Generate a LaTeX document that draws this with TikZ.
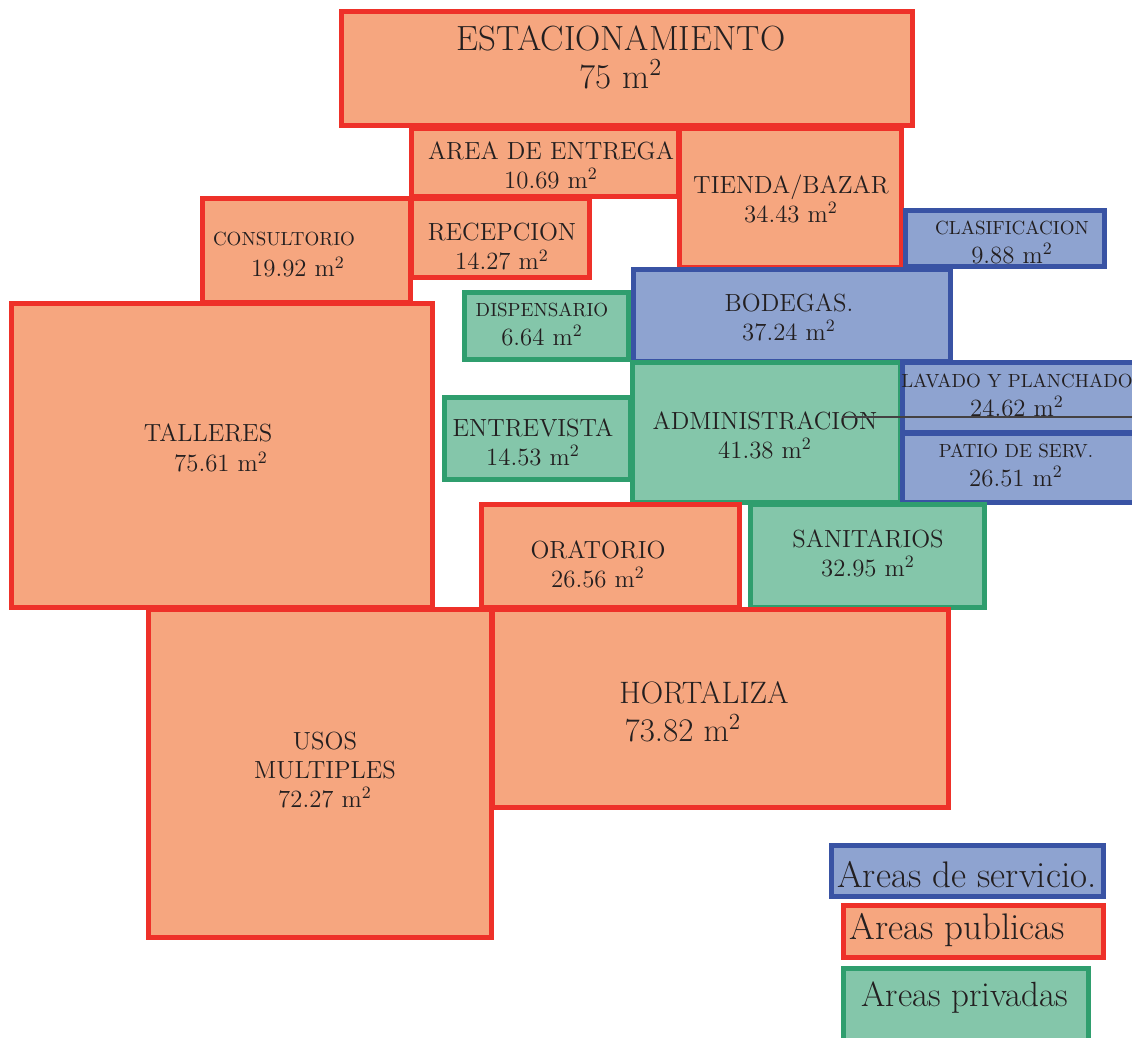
\documentclass[tikz,border=0pt]{standalone}
\usepackage{xcolor}
\usepackage{tikz}

\definecolor{salmon}{HTML}{F6A67F}
\definecolor{rojo}{HTML}{EE3129}
\definecolor{azulclaro}{HTML}{8EA3D0}
\definecolor{azul}{HTML}{3953A4}
\definecolor{verdeclaro}{HTML}{84C6AA}
\definecolor{verde}{HTML}{2F9E6E}
\definecolor{tinta}{HTML}{231F20}

\newcommand{\metros}[1]{#1 m\textsuperscript{2}}
\newcommand{\chico}{\fontsize{9.5}{11}\selectfont}

\tikzset{
  publica/.style={draw=rojo, fill=salmon, line width=2.5pt},
  servicio/.style={draw=azul, fill=azulclaro, line width=2.5pt},
  privada/.style={draw=verde, fill=verdeclaro, line width=2.5pt},
  rotulo/.style={align=center, text=tinta, inner sep=0pt, font=\fontsize{12.4}{14.5}\selectfont},
  grande/.style={rotulo, font=\fontsize{17.5}{19}\selectfont},
  leyenda/.style={rotulo, font=\fontsize{18.5}{20}\selectfont},
}

\begin{document}
\begin{tikzpicture}[x=0.5pt, y=-0.5pt]
        % Page size of the plan
        \clip (0,0) rectangle (1132,1038);
        \useasboundingbox (0,0) rectangle (1132,1038);

        % Upper rooms
        \draw[publica] (341,12) rectangle (912,126);
        \node[grande] (estac) at (621,57) {ESTACIONAMIENTO\\\metros{75}};
        \draw[publica] (411,129) rectangle (678,197);
        \node[rotulo] (entrega) at (551,165) {AREA DE ENTREGA\\\metros{10.69}};
        \draw[publica] (679,129) rectangle (901,268);
        \node[rotulo] (tienda) at (791,199) {TIENDA/BAZAR\\\metros{34.43}};
        \draw[publica] (202,199) rectangle (410,303);
        \node[rotulo] (consult) at (284,239) {\chico CONSULTORIO};
        \node[rotulo] (consultm) at (298,267) {\metros{19.92}};
        \draw[publica] (411,199) rectangle (589,278);
        \node[rotulo] (recep) at (502,247) {RECEPCION\\\metros{14.27}};

        % Service block
        \draw[servicio] (905,211) rectangle (1104,267);
        \node[rotulo] (clasif) at (1012,242) {{\chico CLASIFICACION}\\\metros{9.88}};
        \draw[servicio] (633,270) rectangle (950,362);
        \node[rotulo] (bodegas) at (789,317) {BODEGAS.\\\metros{37.24}};
        \draw[privada] (464,293) rectangle (628,360);
        \node[rotulo] (dispens) at (542,324) {{\chico DISPENSARIO}\\\metros{6.64}};

        % Big hall on the left
        \draw[publica] (11,304) rectangle (432,607);
        \node[rotulo] (talleres) at (208,433) {TALLERES};
        \node[rotulo] (talleresm) at (221,462) {\metros{75.61}};

        % Centre
        \draw[privada] (632,363) rectangle (900,502);
        \node[rotulo] (admin) at (765,435) {ADMINISTRACION\\\metros{41.38}};
        \draw[servicio] (902,363) rectangle (1150,432);
        \node[rotulo] (lavado) at (1017,395) {{\chico LAVADO Y PLANCHADO}\\\metros{24.62}};
        \draw[servicio] (902,433) rectangle (1150,502);
        \node[rotulo] (patio) at (1016,465) {{\chico PATIO DE SERV.}\\\metros{26.51}};
        \coordinate (hiloA) at (842,417);
        \coordinate (hiloB) at (1140,417);
        \draw[tinta!85, line width=1pt] (hiloA) -- (hiloB);
        \draw[privada] (444,398) rectangle (630,479);
        \node[rotulo] (entrev) at (533,442) {ENTREVISTA\\\metros{14.53}};

        % Lower rooms
        \draw[publica] (481,504) rectangle (739,607);
        \node[rotulo] (orat) at (598,564) {ORATORIO\\\metros{26.56}};
        \draw[privada] (750,504) rectangle (984,607);
        \node[rotulo] (sanit) at (868,553) {SANITARIOS\\\metros{32.95}};
        \draw[publica] (148,609) rectangle (491,937);
        \node[rotulo] (usos) at (325,770) {USOS\\MULTIPLES\\\metros{72.27}};
        \draw[publica] (492,609) rectangle (948,807);
        \node[grande, font=\fontsize{15.5}{19}\selectfont] (hortal) at (704,693) {HORTALIZA};
        \node[grande, font=\fontsize{16.5}{19}\selectfont] (hortalm) at (683,728) {\metros{73.82}};

        % Legend
        \draw[servicio] (831,845) rectangle (1103,896);
        \node[leyenda] (leyserv) at (967,875) {Areas de servicio.};
        \draw[publica] (843,905) rectangle (1103,957);
        \node[leyenda, anchor=west] (leypub) at (849,930) {Areas publicas};
        \draw[privada] (843,968) rectangle (1088,1060);
        \node[leyenda, font=\fontsize{17.5}{20}\selectfont] (leypriv) at (965,998) {Areas privadas};
\end{tikzpicture}
\end{document}
